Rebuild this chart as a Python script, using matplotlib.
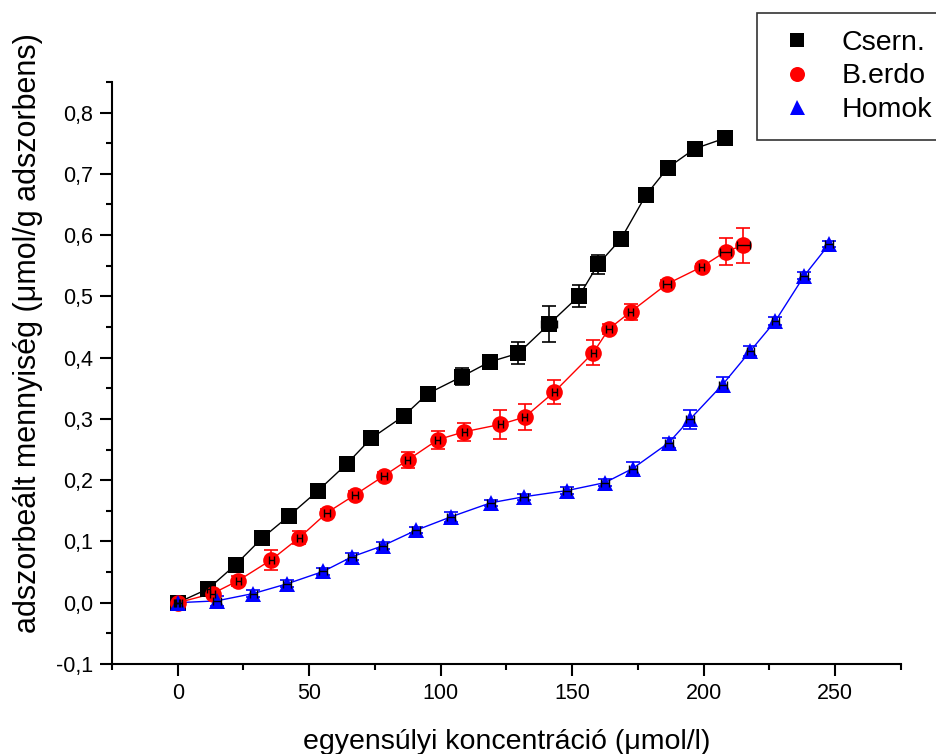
import numpy as np
import matplotlib
matplotlib.use("Agg")
import matplotlib.pyplot as plt
from matplotlib.ticker import MultipleLocator, FuncFormatter

plt.rcParams['font.family'] = ['Liberation Sans', 'DejaVu Sans']

# Csern. (black squares)
csern_x = [0, 11.7, 22, 32, 42.4, 53.4, 64.4, 73.5, 86, 95, 108, 118.6, 129.5,
           141.3, 152.7, 159.8, 168.6, 178, 186.4, 196.6, 208]
csern_y = [0, 0.023, 0.062, 0.105, 0.142, 0.183, 0.227, 0.268, 0.305, 0.341,
           0.369, 0.393, 0.407, 0.455, 0.501, 0.552, 0.594, 0.665, 0.710, 0.741, 0.758]
csern_yerr = [0.003, 0.004, 0.004, 0.004, 0.004, 0.005, 0.004, 0.004, 0.004, 0.004,
              0.014, 0.005, 0.018, 0.030, 0.018, 0.016, 0.005, 0.005, 0.008, 0.005, 0.004]
csern_xerr = [0.5, 0.5, 0.5, 0.5, 0.5, 0.5, 0.5, 0.5, 0.5, 0.5,
              2.0, 0.5, 1.5, 3.0, 0.5, 1.5, 0.5, 0.5, 1.5, 0.5, 0.5]

# B.erdo (red circles)
berdo_x = [0, 13.3, 23, 35.6, 46.2, 56.8, 67.4, 78.4, 87.5, 98.9, 109, 122.7,
           132, 143.2, 158, 164, 172.3, 186, 199.2, 208.3, 215]
berdo_y = [0, 0.015, 0.036, 0.070, 0.106, 0.147, 0.176, 0.207, 0.233, 0.266,
           0.279, 0.291, 0.303, 0.344, 0.408, 0.447, 0.475, 0.520, 0.548, 0.573, 0.583]
berdo_yerr = [0.004, 0.004, 0.008, 0.016, 0.011, 0.006, 0.006, 0.006, 0.013, 0.015,
              0.015, 0.024, 0.021, 0.019, 0.020, 0.008, 0.013, 0.007, 0.005, 0.022, 0.029]
berdo_xerr = [1.0, 1.0, 1.0, 1.0, 1.0, 1.0, 1.0, 1.0, 1.0, 1.0,
              1.0, 1.0, 1.0, 1.0, 1.0, 1.0, 1.0, 1.5, 1.0, 2.0, 2.5]

# Homok (blue triangles)
homok_x = [0, 14.8, 28.8, 41.7, 55.3, 66.3, 78, 90.5, 103.8, 119, 131.8, 148,
           162.5, 173, 186.7, 194.7, 207.2, 217.8, 227.3, 238.3, 247.7]
homok_y = [0, 0.003, 0.015, 0.031, 0.051, 0.075, 0.093, 0.118, 0.140, 0.163,
           0.173, 0.183, 0.196, 0.219, 0.261, 0.299, 0.356, 0.411, 0.460, 0.534, 0.585]
homok_yerr = [0.006, 0.008, 0.006, 0.006, 0.006, 0.006, 0.006, 0.005, 0.008, 0.005,
              0.005, 0.006, 0.006, 0.010, 0.008, 0.016, 0.012, 0.008, 0.006, 0.005, 0.005]
homok_xerr = [1.5] * 21

fig = plt.figure(figsize=(9.37, 7.54), dpi=100)
ax = fig.add_axes([0.1195, 0.1194, 0.842, 0.772])

series = [
    ("Csern.", csern_x, csern_y, csern_xerr, csern_yerr, "black", "s", 11),
    ("B.erdo", berdo_x, berdo_y, berdo_xerr, berdo_yerr, "red", "o", 12),
    ("Homok", homok_x, homok_y, homok_xerr, homok_yerr, "blue", "^", 12),
]

handles = []
for name, x, y, xe, ye, col, mk, ms in series:
    ax.plot(x, y, color=col, lw=1.0, zorder=2)
    ax.errorbar(x, y, yerr=ye, fmt="none", ecolor=col, elinewidth=1.2,
                capsize=5, capthick=1.2, zorder=3)
    h, = ax.plot(x, y, ls="none", marker=mk, color=col, markersize=ms,
                 markeredgewidth=0, zorder=4)
    ax.errorbar(x, y, xerr=xe, fmt="none", ecolor="black", elinewidth=1.0,
                capsize=3, capthick=1.0, zorder=5)
    handles.append(h)

ax.set_xlim(-25, 275)
ax.set_ylim(-0.1, 0.85)
ax.xaxis.set_major_locator(MultipleLocator(50))
ax.xaxis.set_minor_locator(MultipleLocator(25))
ax.yaxis.set_major_locator(MultipleLocator(0.1))
ax.yaxis.set_minor_locator(MultipleLocator(0.05))
ax.yaxis.set_major_formatter(FuncFormatter(lambda v, p: f"{v:.1f}".replace(".", ",")))

for side in ["top", "right"]:
    ax.spines[side].set_visible(False)
for side in ["left", "bottom"]:
    ax.spines[side].set_linewidth(1.5)
ax.tick_params(which="major", direction="out", length=8.5, width=1.5,
               labelsize=15.5, pad=5)
ax.tick_params(which="minor", direction="out", length=4.3, width=1.5)

ax.set_xlabel("egyensúlyi koncentráció (μmol/l)", fontsize=20.5, labelpad=18)
ax.set_ylabel("adszorbeált mennyiség (μmol/g adszorbens)", fontsize=22)
ax.yaxis.set_label_coords(-0.088, 0.568)

leg = fig.legend(handles, [s[0] for s in series], loc="upper left",
                 bbox_to_anchor=(757 / 937, 1 - 12.7 / 754), fontsize=20.5,
                 frameon=True, fancybox=False, edgecolor="black",
                 borderpad=0.62, handletextpad=0.76, labelspacing=0.25,
                 handlelength=1.6, borderaxespad=0, markerscale=0.9)
leg.get_frame().set_linewidth(1.2)

fig.savefig("out.png", dpi=100)
